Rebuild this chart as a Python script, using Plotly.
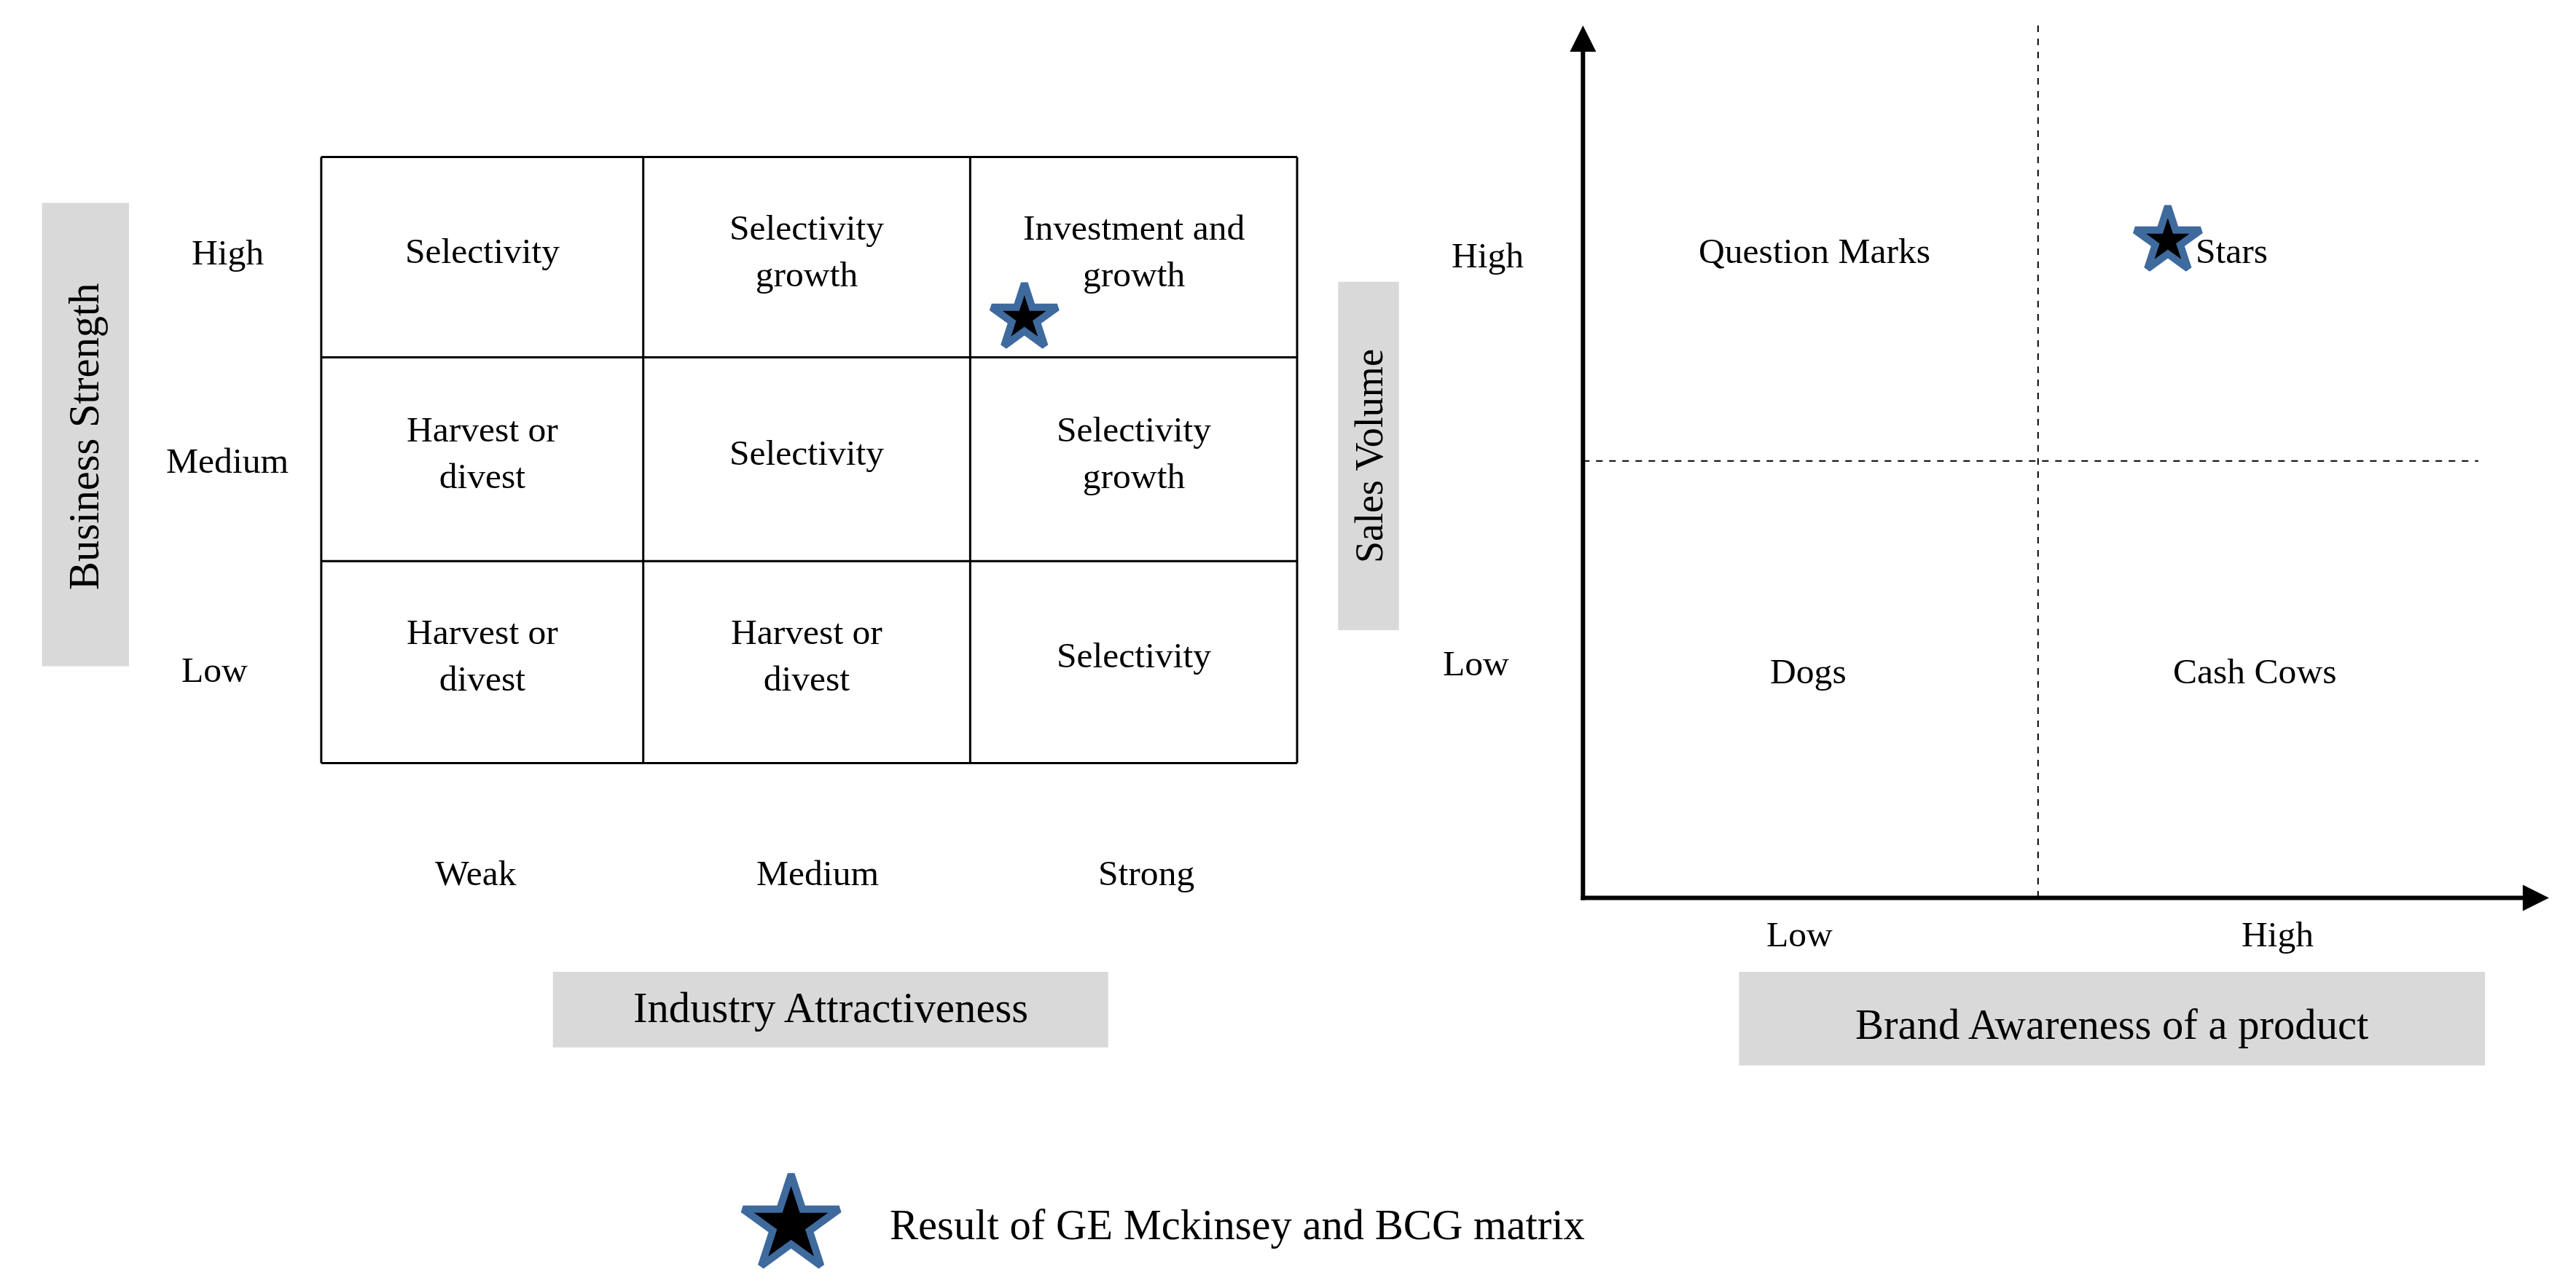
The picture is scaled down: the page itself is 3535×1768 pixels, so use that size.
import plotly.graph_objects as go

W, H = 3535, 1768
S = W / 1568  # reference sketch units -> pixels

# GE McKinsey matrix
ge_rows = ["High", "Medium", "Low"]
ge_cols = ["Weak", "Medium", "Strong"]
ge_cells = [
    ["Selectivity", "Selectivity<br>growth", "Investment and<br>growth"],
    ["Harvest or<br>divest", "Selectivity", "Selectivity<br>growth"],
    ["Harvest or<br>divest", "Harvest or<br>divest", "Selectivity"],
]
ge_x_edges = [192, 388, 587, 786]
ge_y_edges = [92, 214, 338, 461]
ge_star = (620, 190)

# BCG matrix
bcg_quadrants = ["Question Marks", "Stars", "Dogs", "Cash Cows"]
bcg_quad_pos = [(1101, 149), (1355, 149), (1097, 405), (1369, 405)]
bcg_y_labels = ["High", "Low"]
bcg_x_labels = ["Low", "High"]
bcg_star = (1316, 143)

FONT = "Liberation Serif"
fs = 22 * S

fig = go.Figure()

shapes = []
for x in ge_x_edges:
    shapes.append(dict(type="line", x0=x, x1=x, y0=ge_y_edges[0], y1=ge_y_edges[-1],
                       line=dict(color="black", width=3)))
for y in ge_y_edges:
    shapes.append(dict(type="line", x0=ge_x_edges[0], x1=ge_x_edges[-1], y0=y, y1=y,
                       line=dict(color="black", width=3)))
# gray label boxes
for x0, x1, y0, y1 in [(22, 75, 120, 402), (333, 671, 588, 634),
                       (811, 848, 168, 380), (1055, 1509, 588, 645)]:
    shapes.append(dict(type="rect", x0=x0, x1=x1, y0=y0, y1=y1,
                       fillcolor="#d9d9d9", line=dict(width=0), layer="below"))
# BCG dashed dividers
shapes.append(dict(type="line", x0=1237, x1=1237, y0=12, y1=543,
                   line=dict(color="black", width=2, dash="dash")))
shapes.append(dict(type="line", x0=960, x1=1505, y0=277, y1=277,
                   line=dict(color="black", width=2, dash="dash")))

ann = []
for r, row in enumerate(ge_cells):
    for c, txt in enumerate(row):
        ann.append(dict(x=(ge_x_edges[c] + ge_x_edges[c + 1]) / 2,
                        y=(ge_y_edges[r] + ge_y_edges[r + 1]) / 2 - 4,
                        text=txt, showarrow=False, font=dict(size=fs)))
for lab, (x, y) in zip(ge_rows, [(135, 150), (135, 277), (127, 404)]):
    ann.append(dict(x=x, y=y, text=lab, showarrow=False, font=dict(size=fs)))
for lab, x in zip(ge_cols, [286, 494, 694]):
    ann.append(dict(x=x, y=528, text=lab, showarrow=False, font=dict(size=fs)))
ann.append(dict(x=48, y=262, text="Business Strength", textangle=-90,
                showarrow=False, font=dict(size=26 * S)))
ann.append(dict(x=502, y=610, text="Industry Attractiveness",
                showarrow=False, font=dict(size=26 * S)))

for lab, (x, y) in zip(bcg_quadrants, bcg_quad_pos):
    ann.append(dict(x=x, y=y, text=lab, showarrow=False, font=dict(size=fs)))
for lab, (x, y) in zip(bcg_y_labels, [(902, 152), (895, 400)]):
    ann.append(dict(x=x, y=y, text=lab, showarrow=False, font=dict(size=fs)))
for lab, x in zip(bcg_x_labels, [1092, 1383]):
    ann.append(dict(x=x, y=565, text=lab, showarrow=False, font=dict(size=fs)))
ann.append(dict(x=830, y=274, text="Sales Volume", textangle=-90,
                showarrow=False, font=dict(size=24 * S)))
ann.append(dict(x=1282, y=620, text="Brand Awareness of a product",
                showarrow=False, font=dict(size=26 * S)))
# axes arrows
ann.append(dict(x=960, y=12, ax=960, ay=545, axref="x", ayref="y", xref="x", yref="y",
                text="", showarrow=True, arrowhead=2, arrowsize=1.2, arrowwidth=6,
                arrowcolor="black"))
ann.append(dict(x=1548, y=543, ax=958, ay=543, axref="x", ayref="y", xref="x", yref="y",
                text="", showarrow=True, arrowhead=2, arrowsize=1.2, arrowwidth=6,
                arrowcolor="black"))
# legend
ann.append(dict(x=537, y=742, text="Result of GE Mckinsey and BCG matrix",
                xanchor="left", showarrow=False, font=dict(size=26 * S)))

stars_x = [ge_star[0], bcg_star[0], 478]
stars_y = [ge_star[1], bcg_star[1], 742]
stars_s = [30 * S, 30 * S, 44 * S]
fig.add_trace(go.Scatter(x=stars_x, y=stars_y, mode="markers",
                         marker=dict(symbol="star", size=stars_s, color="black", opacity=1,
                                     line=dict(color="#3e6a9e", width=10)),
                         hoverinfo="skip"))

fig.update_layout(
    width=W, height=H, margin=dict(l=0, r=0, t=0, b=0),
    paper_bgcolor="white", plot_bgcolor="white", showlegend=False,
    font=dict(family=FONT, color="black"),
    shapes=shapes, annotations=ann,
    xaxis=dict(range=[0, 1568], visible=False, fixedrange=True),
    yaxis=dict(range=[784, 0], visible=False, fixedrange=True),
)
fig.write_html("out.html")
